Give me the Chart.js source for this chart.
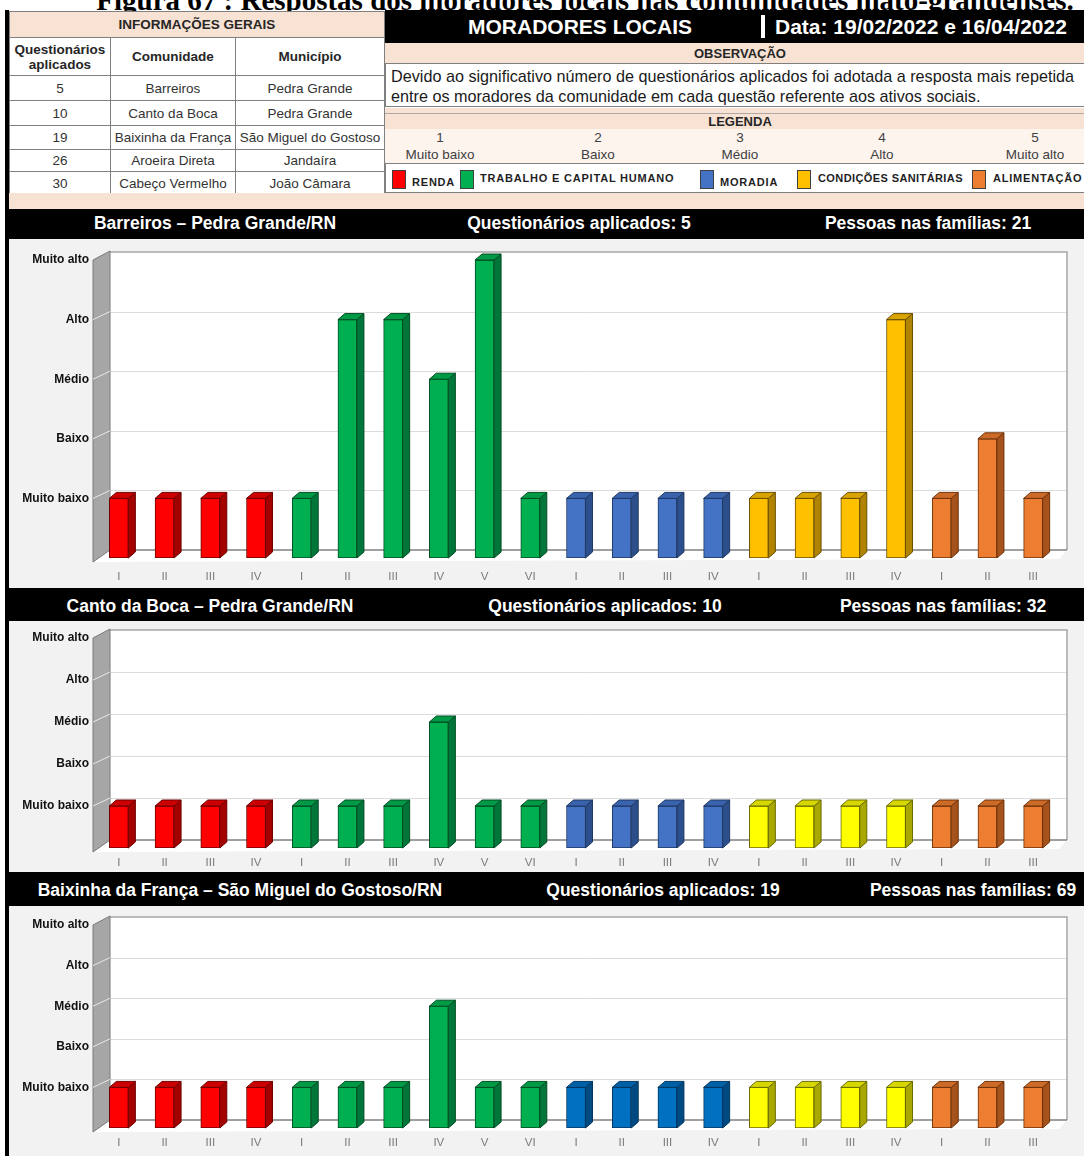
<!DOCTYPE html>
<html lang="pt">
<head>
<meta charset="utf-8">
<script src="https://cdn.jsdelivr.net/npm/chart.js@4.4.1/dist/chart.umd.min.js"></script>
<style>
  body { margin: 0; width: 1084px; height: 1156px; overflow: hidden; background: #fff; position: relative;
         font-family: "Liberation Sans", Arial, sans-serif; color: #262626; }
  .abs { position: absolute; }
  .peach { background: #f8e2d4; }
  .caption { left: 0; width: 1170px; top: -14px; text-align: center; font: bold 29px/29px "Liberation Serif", "Times New Roman", serif; color: #000; white-space: nowrap; }
  table.info { border-collapse: collapse; left: 9px; top: 11px; width: 376px; font-size: 13.5px; background: #fff; }
  table.info td { border: 1px solid #808080; text-align: center; padding: 0; color: #333; }
  table.info .th { font-weight: bold; color: #262626; }
  .blackbar { background: #000; color: #fff; }
  .ctr { transform: translateX(-50%); white-space: nowrap; }
  .hdr1 { font: bold 17.5px "Liberation Sans", Arial, sans-serif; color: #fff; }
  .hdr2 { font: bold 17.5px "Liberation Sans", Arial, sans-serif; color: #fff; }
  .sw { width: 12px; height: 17px; border: 1px solid #404040; }
  .lg { font-size: 11px; font-weight: bold; color: #1f1f1f; white-space: nowrap; letter-spacing: 0.8px; }
  canvas { position: absolute; }
</style>
</head>
<body>
<div class="abs caption">Figura 67 : Respostas dos moradores locais nas comunidades mato-grandenses.</div>

<!-- informacoes gerais -->
<table class="abs info" id="info"></table>
<div class="abs" style="left:5px;top:10px;width:4px;height:200px;background:#000;"></div>

<!-- cabecalho direito -->
<div class="abs blackbar" style="left:385px;top:10px;width:699px;height:33px;"></div>
<div class="abs ctr" style="left:580px;top:15px;font:bold 21px 'Liberation Sans',Arial;color:#fff;">MORADORES LOCAIS</div>
<div class="abs" style="left:761px;top:15px;width:4px;height:23px;background:#fff;"></div>
<div class="abs" style="left:775px;top:15px;font:bold 21px 'Liberation Sans',Arial;color:#fff;white-space:nowrap;">Data: 19/02/2022 e 16/04/2022</div>

<div class="abs peach" style="left:385px;top:43px;width:699px;height:20px;"></div>
<div class="abs ctr" style="left:740px;top:46px;font-weight:bold;font-size:13px;">OBSERVAÇÃO</div>
<div class="abs" style="left:385px;top:63px;width:699px;height:44px;border:1px solid #7f7f7f;border-right:none;background:#fff;box-sizing:border-box;padding:2px 0 0 5px;font-size:16.2px;line-height:20px;color:#1a1a1a;white-space:nowrap;">
Devido ao significativo número de questionários aplicados foi adotada a resposta mais repetida<br>entre os moradores da comunidade em cada questão referente aos ativos sociais.</div>
<div class="abs peach" style="left:385px;top:107px;width:699px;height:22px;border-top:1px solid #fff;"></div>
<div class="abs" style="left:385px;top:113px;width:699px;height:1px;background:#b0a8a4;"></div>
<div class="abs ctr" style="left:740px;top:114px;font-weight:bold;font-size:13px;">LEGENDA</div>
<div class="abs" style="left:385px;top:129px;width:699px;height:34px;background:#fdf4ee;"></div>
<div id="scale"></div>
<div class="abs" style="left:385px;top:163px;width:699px;height:30px;border:1px solid #7f7f7f;border-right:none;background:#fff;box-sizing:border-box;"></div>
<div id="legend"></div>
<div class="abs peach" style="left:9px;top:193px;width:1075px;height:16px;"></div>

<!-- area dos graficos -->
<div class="abs" style="left:5px;top:209px;width:1079px;height:947px;background:#000;"></div>
<div class="abs" id="headers"></div>
<canvas id="c1" width="1075" height="349" style="left:9px;top:239px;"></canvas>
<canvas id="c2" width="1075" height="251" style="left:9px;top:621px;"></canvas>
<canvas id="c3" width="1075" height="250" style="left:9px;top:906px;"></canvas>

<script>
// tabela de informacoes
const infoQuestionarios = ['5', '10', '19', '26', '30'];
const infoComunidades = ['Barreiros', 'Canto da Boca', 'Baixinha da França', 'Aroeira Direta', 'Cabeço Vermelho'];
const infoMunicipios = ['Pedra Grande', 'Pedra Grande', 'São Miguel do Gostoso', 'Jandaíra', 'João Câmara'];
const infoRowHeights = [25, 25, 24, 22, 24];

// legenda
const scaleNumbers = ['1', '2', '3', '4', '5'];
const levelLabels = ['', 'Muito baixo', 'Baixo', 'Médio', 'Alto', 'Muito alto'];
const groupNames = ['RENDA', 'TRABALHO E CAPITAL HUMANO', 'MORADIA', 'CONDIÇÕES SANITÁRIAS', 'ALIMENTAÇÃO'];
const legendColors = ['#ff0000', '#00b050', '#4472c4', '#ffc000', '#ed7d31'];

// categorias (questoes de cada ativo)
const categories = ['I', 'II', 'III', 'IV', 'I', 'II', 'III', 'IV', 'V', 'VI', 'I', 'II', 'III', 'IV', 'I', 'II', 'III', 'IV', 'I', 'II', 'III'];
const categoryGroup = [0, 0, 0, 0, 1, 1, 1, 1, 1, 1, 2, 2, 2, 2, 3, 3, 3, 3, 4, 4, 4];

// respostas (1 = Muito baixo ... 5 = Muito alto)
const barreirosValues = [1, 1, 1, 1, 1, 4, 4, 3, 5, 1, 1, 1, 1, 1, 1, 1, 1, 4, 1, 2, 1];
const cantoDaBocaValues = [1, 1, 1, 1, 1, 1, 1, 3, 1, 1, 1, 1, 1, 1, 1, 1, 1, 1, 1, 1, 1];
const baixinhaValues = [1, 1, 1, 1, 1, 1, 1, 3, 1, 1, 1, 1, 1, 1, 1, 1, 1, 1, 1, 1, 1];

// cores: frente, lateral, topo, contorno
const RED = ['#ff0000', '#a30000', '#cc0000', '#6e0000'];
const GREEN = ['#00b050', '#00763a', '#009a46', '#004d22'];
const BLUE = ['#4472c4', '#2c4f8c', '#3a63ad', '#1f3864'];
const BLUE2 = ['#0070c0', '#004a82', '#0060a6', '#003660'];
const GOLD = ['#ffc000', '#b08400', '#d9a300', '#6b5000'];
const YELLOW = ['#ffff00', '#a8a800', '#d6d600', '#6b6b00'];
const ORANGE = ['#ed7d31', '#a5521c', '#cc6a28', '#6e3208'];

const charts = [
  { id: 'c1', values: barreirosValues, palette: [RED, GREEN, BLUE, GOLD, ORANGE], top: 21, xh: 30, xpad: 12,
    titles: ['Barreiros – Pedra Grande/RN', 'Questionários aplicados: 5', 'Pessoas nas famílias: 21'] },
  { id: 'c2', values: cantoDaBocaValues, palette: [RED, GREEN, BLUE, YELLOW, ORANGE], top: 17, xh: 24, xpad: 8,
    titles: ['Canto da Boca – Pedra Grande/RN', 'Questionários aplicados: 10', 'Pessoas nas famílias: 32'] },
  { id: 'c3', values: baixinhaValues, palette: [RED, GREEN, BLUE2, YELLOW, ORANGE], top: 19, xh: 28, xpad: 8,
    titles: ['Baixinha da França – São Miguel do Gostoso/RN', 'Questionários aplicados: 19', 'Pessoas nas famílias: 69'] }
];

// monta tabela
const info = document.getElementById('info');
let html = '<tr style="height:26px"><td colspan="3" class="th" style="background:#f8e2d4">INFORMAÇÕES GERAIS</td></tr>';
html += '<tr style="height:38px"><td class="th" style="width:100px;line-height:15px">Questionários<br>aplicados</td><td class="th" style="width:124px">Comunidade</td><td class="th">Município</td></tr>';
infoQuestionarios.forEach((q, i) => {
  html += `<tr style="height:${infoRowHeights[i]}px"><td>${q}</td><td style="white-space:nowrap">${infoComunidades[i]}</td><td style="white-space:nowrap">${infoMunicipios[i]}</td></tr>`;
});
info.innerHTML = html;

// escala da legenda
const scaleX = [440, 598, 740, 882, 1035];
document.getElementById('scale').innerHTML = scaleNumbers.map((n, i) =>
  `<div class="abs ctr" style="left:${scaleX[i]}px;top:130px;font-size:13.5px;color:#404040">${n}</div>` +
  `<div class="abs ctr" style="left:${scaleX[i]}px;top:147px;font-size:13.5px;color:#404040">${levelLabels[i + 1]}</div>`).join('');

// legenda de cores
const swatchX = [392, 460, 700, 797, 972];
const labelX = [412, 480, 720, 818, 993];
const labelSpacing = [0.8, 0.8, 0.8, 0.4, 0.8];
document.getElementById('legend').innerHTML = groupNames.map((g, i) =>
  `<div class="abs sw" style="left:${swatchX[i]}px;top:170px;background:${legendColors[i]}"></div>` +
  `<div class="abs lg" style="left:${labelX[i]}px;top:${i === 0 || i === 2 ? 176 : 172}px;letter-spacing:${labelSpacing[i]}px">${g}</div>`).join('');

// cabecalhos dos graficos
const headerTops = [209, 592, 876];
const headerTextX = [[215, 579, 928], [210, 605, 943], [240, 663, 973]];
document.getElementById('headers').innerHTML = charts.map((c, k) =>
  c.titles.map((t, j) =>
    `<div class="abs ctr ${k === 0 ? 'hdr1' : 'hdr2'}" style="left:${headerTextX[k][j]}px;top:${headerTops[k] + 4}px">${t}</div>`
  ).join('')).join('');

// efeito 3D das barras e parede lateral
const bar3d = {
  id: 'bar3d',
  beforeDraw(chart) {
    const { ctx, width, height } = chart;
    ctx.save();
    ctx.fillStyle = '#f2f2f2';
    ctx.fillRect(0, 0, width, height);
    ctx.restore();
  },
  beforeDatasetsDraw(chart) {
    const { ctx, chartArea: a, scales: { y } } = chart;
    const y5 = y.getPixelForValue(5), y0 = y.getPixelForValue(0);
    const wl = a.left - 3, wr = a.left + 14, br = a.right + 11, bk = 8;
    ctx.save();
    // fundo
    ctx.fillStyle = '#fff';
    ctx.fillRect(wr, y5 - bk, br - wr, y0 - y5);
    ctx.beginPath();
    ctx.moveTo(wr, y0 - bk); ctx.lineTo(br, y0 - bk); ctx.lineTo(br - 8, y0 + 1); ctx.lineTo(wl, y0 + 4);
    ctx.closePath(); ctx.fill();
    // linhas de grade
    ctx.strokeStyle = '#dcdcdc'; ctx.lineWidth = 1;
    for (let v = 1; v <= 4; v++) {
      const py = Math.round(y.getPixelForValue(v) - bk) + 0.5;
      ctx.beginPath(); ctx.moveTo(wr, py); ctx.lineTo(br, py); ctx.stroke();
    }
    ctx.strokeStyle = '#a6a6a6'; ctx.lineWidth = 1.5;
    ctx.beginPath(); ctx.moveTo(wr, y5 - bk); ctx.lineTo(br, y5 - bk); ctx.lineTo(br, y0 - bk); ctx.stroke();
    // piso
    ctx.strokeStyle = '#7f7f7f'; ctx.lineWidth = 1.5;
    ctx.beginPath(); ctx.moveTo(wr, y0 - bk); ctx.lineTo(br, y0 - bk); ctx.stroke();
    // parede
    ctx.fillStyle = '#a6a6a6'; ctx.strokeStyle = '#7a7a7a'; ctx.lineWidth = 1;
    ctx.beginPath();
    ctx.moveTo(wl, y5); ctx.lineTo(wr, y5 - bk - 1); ctx.lineTo(wr, y0 - bk); ctx.lineTo(wl, y0 + 4);
    ctx.closePath(); ctx.fill(); ctx.stroke();
    ctx.strokeStyle = '#e8e8e8';
    for (let v = 1; v <= 4; v++) {
      const py = y.getPixelForValue(v);
      ctx.beginPath(); ctx.moveTo(wl, py); ctx.lineTo(wr, py - bk); ctx.stroke();
    }
    ctx.restore();
  },
  afterDatasetsDraw(chart) {
    const { ctx } = chart;
    const pal = chart.options.plugins.bar3d.palette;
    const dx = 7, dy = 6;
    chart.getDatasetMeta(0).data.forEach((bar, i) => {
      const { x, y, base, width } = bar.getProps(['x', 'y', 'base', 'width'], true);
      const l = x - width / 2, r = x + width / 2;
      const c = pal[categoryGroup[i]];
      ctx.save();
      ctx.lineWidth = 1; ctx.strokeStyle = c[3];
      ctx.fillStyle = c[1];
      ctx.beginPath();
      ctx.moveTo(r, y); ctx.lineTo(r + dx, y - dy); ctx.lineTo(r + dx, base - dy); ctx.lineTo(r, base);
      ctx.closePath(); ctx.fill(); ctx.stroke();
      ctx.fillStyle = c[2];
      ctx.beginPath();
      ctx.moveTo(l, y); ctx.lineTo(l + dx, y - dy); ctx.lineTo(r + dx, y - dy); ctx.lineTo(r, y);
      ctx.closePath(); ctx.fill(); ctx.stroke();
      ctx.restore();
    });
  }
};

charts.forEach(c => {
  new Chart(document.getElementById(c.id), {
    type: 'bar',
    data: {
      labels: categories,
      datasets: [{
        data: c.values,
        backgroundColor: categoryGroup.map(g => c.palette[g][0]),
        borderColor: categoryGroup.map(g => c.palette[g][3]),
        borderWidth: 1,
        borderSkipped: false,
        barThickness: 19
      }]
    },
    options: {
      responsive: false,
      animation: false,
      devicePixelRatio: 1,
      layout: { padding: { top: c.top, right: 28, left: 0, bottom: 0 } },
      plugins: { legend: { display: false }, tooltip: { enabled: false }, bar3d: { palette: c.palette } },
      scales: {
        x: {
          grid: { display: false, drawTicks: false },
          border: { display: false },
          ticks: { autoSkip: false, maxRotation: 0, color: '#7a7a7a', padding: c.xpad,
                   font: { size: 11.5, family: '"Liberation Sans", Arial' } },
          afterFit(s) { s.height = c.xh; }
        },
        y: {
          min: 0, max: 5,
          grid: { display: false, drawTicks: false },
          border: { display: false },
          ticks: { stepSize: 1, padding: 7, color: '#111',
                   callback: v => levelLabels[v],
                   font: { size: 12, weight: 'bold', family: '"Liberation Sans", Arial' } },
          afterFit(s) { s.width = 87; }
        }
      }
    },
    plugins: [bar3d]
  });
});
</script>
</body>
</html>
